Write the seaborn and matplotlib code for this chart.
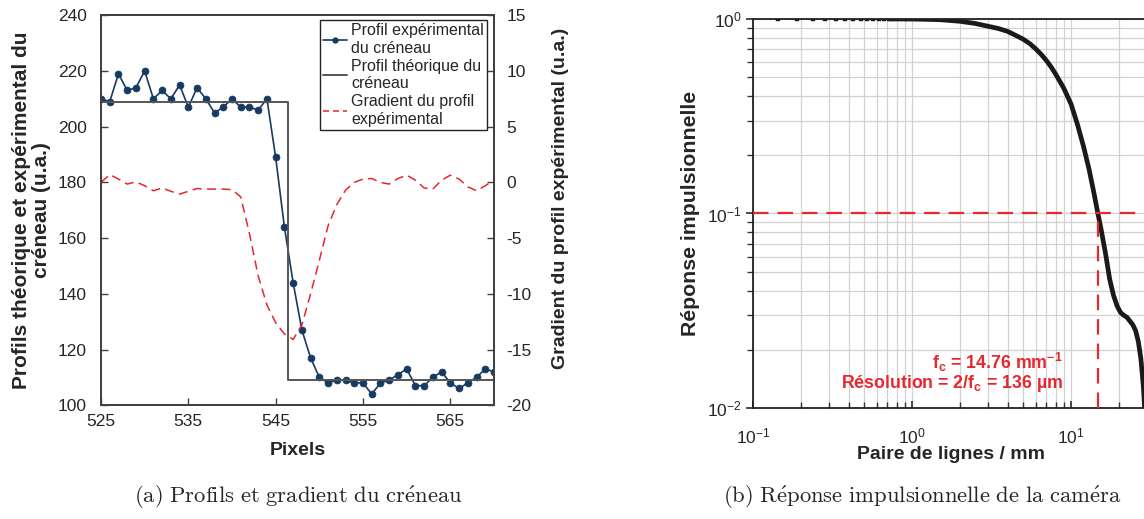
import matplotlib
matplotlib.use("Agg")
import numpy as np
import pandas as pd
import matplotlib.pyplot as plt
from matplotlib.lines import Line2D
import seaborn as sns

# ---- (a) square-wave profile -------------------------------------------
pixels = [525, 526, 527, 528, 529, 530, 531, 532, 533, 534, 535, 536, 537, 538, 539, 540,
          541, 542, 543, 544, 545, 546, 547, 548, 549, 550, 551, 552, 553, 554, 555, 556,
          557, 558, 559, 560, 561, 562, 563, 564, 565, 566, 567, 568, 569, 570]
exp_profile = [210, 209, 219, 213, 214, 220, 210, 213, 210, 215, 207, 214, 210, 205, 207, 210,
               207, 207, 206, 210, 189, 164, 144, 127, 117, 110, 108, 109, 109, 108, 108, 104,
               108, 109, 111, 113, 107, 107, 110, 112, 108, 106, 108, 110, 113, 112]
gradient = [0.0, 0.7, 0.3, -0.15, 0.05, -0.3, -0.75, -0.5, -0.8, -1.05, -0.8, -0.55, -0.6, -0.6,
            -0.6, -0.65, -1.3, -4.6, -8.4, -11.0, -12.6, -13.6, -14.1, -12.8, -10.0, -7.0, -3.9,
            -2.0, -0.7, 0.0, 0.3, 0.35, 0.0, -0.15, 0.35, 0.65, 0.2, -0.5, -0.6, 0.2, 0.65, 0.3,
            -0.4, -0.75, -0.3, 0.2]
theo_x = [525, 546.4, 546.4, 570]
theo_y = [209, 209, 109, 109]

# ---- (b) MTF ------------------------------------------------------------
freq = [0.143, 0.190, 0.238, 0.285, 0.333, 0.380, 0.428, 0.476, 0.523, 0.571, 0.618, 0.666,
        0.713, 0.761, 0.808, 0.856, 0.904, 0.951, 1.2, 1.5, 2.0, 2.5, 3.0, 3.5, 4.0, 4.5, 5.0,
        5.5, 6.0, 6.5, 7.0, 7.5, 8.0, 9.0, 10.0, 11.0, 12.0, 13.0, 14.0, 14.76, 15.5, 16.5,
        17.5, 18.5, 19.5, 20.5, 21.5, 22.5, 23.5, 24.5, 25.5, 26.5, 27.5, 28.5, 29.5, 30.5]
mtf = [1.0, 1.0, 1.0, 1.0, 1.0, 1.0, 1.0, 1.0, 1.0, 0.999, 0.999, 0.999,
       0.998, 0.998, 0.997, 0.997, 0.996, 0.996, 0.993, 0.988, 0.97, 0.945, 0.915, 0.89, 0.86,
       0.82, 0.785, 0.745, 0.70, 0.655, 0.61, 0.565, 0.52, 0.44, 0.365, 0.285, 0.22, 0.168,
       0.125, 0.10, 0.082, 0.062, 0.046, 0.038, 0.0335, 0.031, 0.030, 0.0293, 0.028, 0.0268,
       0.025, 0.022, 0.018, 0.013, 0.008, 0.005]
f_cut = 14.76
mtf_level = 0.1

navy = "#173a63"
grey = "#555555"
red = "#e8262d"

sns.set_theme(style="ticks")
plt.rcParams["font.family"] = ["Liberation Sans", "DejaVu Sans"]
plt.rcParams["axes.unicode_minus"] = False

fig = plt.figure(figsize=(11.44, 5.19), dpi=100)
W, H = 1144, 519

# ================= panel (a) =================
ax = fig.add_axes([101 / W, 1 - 405.2 / H, 393 / W, 389.9 / H])
ax2 = ax.twinx()

df_a = pd.DataFrame({"px": pixels, "exp": exp_profile, "grad": gradient})
sns.lineplot(data=df_a, x="px", y="exp", ax=ax, color=navy, lw=1.2, marker="o",
             markersize=5, markeredgecolor=navy, markeredgewidth=0.5, legend=False)
sns.lineplot(x=theo_x, y=theo_y, ax=ax, color=grey, lw=1.4, estimator=None,
             sort=False, legend=False)
sns.lineplot(data=df_a, x="px", y="grad", ax=ax2, color=red, lw=1.1,
             linestyle=(0, (6, 3.5)), legend=False)

ax.set_xlim(525, 570)
ax.set_ylim(100, 240)
ax2.set_ylim(-20, 15)
ax.set_xticks([525, 535, 545, 555, 565])
ax.set_yticks(np.arange(100, 241, 20))
ax2.set_yticks(np.arange(-20, 16, 5))
ax.tick_params(axis="x", direction="in", length=5, width=1, color="#404040",
               labelsize=12.5, pad=6)
ax.tick_params(axis="y", direction="in", length=5, width=1, color="#404040",
               labelsize=12.5, pad=10)
ax2.tick_params(axis="y", direction="in", length=5, width=1, color="#404040",
                labelsize=12.5, pad=9)
for a in (ax, ax2):
    for s in a.spines.values():
        s.set_visible(True)
        s.set_color("#404040")
        s.set_linewidth(1.3)

ax.set_xlabel("Pixels", fontsize=14, fontweight="bold", labelpad=10)
ax.set_ylabel("Profils théorique et expérimental du\ncréneau (u.a.)", fontsize=15,
              fontweight="bold", labelpad=5, linespacing=1.05)
ax2.set_ylabel("Gradient du profil expérimental (u.a.)", fontsize=14, fontweight="bold")
ax2.yaxis.set_label_coords(1.148, 0.53)

handles = [
    Line2D([], [], color=navy, lw=1.2, marker="o", markersize=3.5),
    Line2D([], [], color=grey, lw=1.4),
    Line2D([], [], color=red, lw=1.1, linestyle=(0, (4, 2.5))),
]
labels = ["Profil expérimental\ndu créneau", "Profil théorique du\ncréneau",
          "Gradient du profil\nexpérimental"]
leg = ax2.legend(handles, labels, loc="upper right", bbox_to_anchor=(0.983, 0.988),
                 borderaxespad=0, fontsize=11.5, frameon=True, fancybox=False,
                 framealpha=1, edgecolor="#222222", borderpad=0.2, labelspacing=0.2,
                 handlelength=1.5, handletextpad=0.25)
leg.get_frame().set_linewidth(1.0)
for t in leg.get_texts():
    t.set_linespacing(1.2)

# ================= panel (b) =================
bx = fig.add_axes([753 / W, 1 - 408.3 / H, 396.7 / W, 389.6 / H])
bx.set_xscale("log")
bx.set_yscale("log")
bx.set_xlim(0.1, 31.25)
bx.set_ylim(0.01, 1)
bx.grid(True, which="both", color="#d2d2d2", lw=0.9)
bx.set_axisbelow(True)

df_b = pd.DataFrame({"f": freq, "mtf": mtf})
sns.lineplot(data=df_b[df_b["f"] < 0.8], x="f", y="mtf", ax=bx, color="#1a1a1a", lw=0.8,
             marker="s", markersize=3.2, markeredgecolor="#1a1a1a", markeredgewidth=0.3,
             legend=False)
sns.lineplot(data=df_b[df_b["f"] >= 0.7], x="f", y="mtf", ax=bx, color="#1a1a1a",
             lw=3.4, legend=False, solid_capstyle="butt", solid_joinstyle="round")

bx.axhline(mtf_level, color=red, lw=1.6, linestyle=(0, (7, 4)), zorder=3)
bx.vlines(f_cut, 0.01, mtf_level, color=red, lw=1.6, linestyle=(0, (7, 4)), zorder=3)

bx.text(1063 / W, 1 - 362 / H, r"f$_\mathdefault{c}$ = 14.76 mm$^\mathdefault{-1}$",
        transform=fig.transFigure, ha="right", va="center", color=red,
        fontsize=12.8, fontweight="bold")
bx.text(1063 / W, 1 - 384 / H, r"Résolution = 2/f$_\mathdefault{c}$ = 136 µm",
        transform=fig.transFigure, ha="right", va="center", color=red,
        fontsize=12.8, fontweight="bold")

for side in ("left", "bottom", "top"):
    bx.spines[side].set_visible(True)
    bx.spines[side].set_color("#222222")
    bx.spines[side].set_linewidth(1.3)
bx.spines["right"].set_visible(False)
bx.tick_params(axis="x", which="both", direction="in", color="#333333", labelsize=12.5, pad=13)
bx.tick_params(axis="x", which="major", length=5)
bx.tick_params(axis="x", which="minor", length=4)
bx.tick_params(axis="y", which="both", direction="out", color="#333333", labelsize=12.5, pad=3)
bx.tick_params(axis="y", which="major", length=5)
bx.tick_params(axis="y", which="minor", length=4)
bx.set_xlabel("Paire de lignes / mm", fontsize=14, fontweight="bold", labelpad=0)
bx.set_ylabel("Réponse impulsionnelle", fontsize=15.3, fontweight="bold", labelpad=5)

# ---- captions ----
fig.text(298 / W, 1 - 497 / H, r"$\mathrm{(a)\ Profils\ et\ gradient\ du\ cr\acute{e}neau}$",
         ha="center", va="center", fontsize=16.3, math_fontfamily="cm")
fig.text(922 / W, 1 - 497 / H,
         r"$\mathrm{(b)\ R\acute{e}ponse\ impulsionnelle\ de\ la\ cam\acute{e}ra}$",
         ha="center", va="center", fontsize=16.3, math_fontfamily="cm")

fig.savefig("out.png", dpi=100)
